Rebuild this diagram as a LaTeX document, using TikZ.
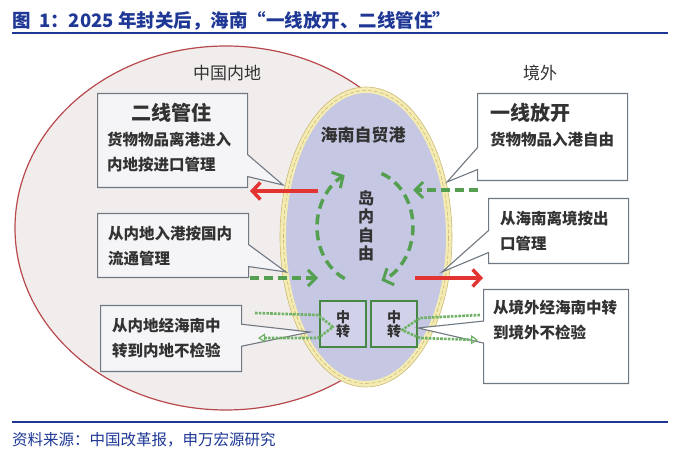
\documentclass[tikz,border=0pt]{standalone}
\usepackage{fontspec}
\setmainfont{Noto Sans CJK SC}
\usetikzlibrary{arrows.meta}
\usetikzlibrary{shapes.geometric}
\usetikzlibrary{shapes.callouts}
\definecolor{titleblue}{RGB}{31,56,150}
\definecolor{landfill}{RGB}{242,237,237}
\definecolor{landline}{RGB}{184,72,76}
\definecolor{islefill}{RGB}{197,199,227}
\definecolor{isleband}{RGB}{244,236,178}
\definecolor{isleline}{RGB}{205,185,120}
\definecolor{flowgreen}{RGB}{84,160,80}
\definecolor{transgreen}{RGB}{110,178,100}
\definecolor{flowred}{RGB}{226,52,48}
\definecolor{boxline}{RGB}{112,120,130}
\definecolor{boxfill}{RGB}{245,245,247}
\definecolor{txt}{RGB}{50,50,50}
\newcommand{\notefont}{\fontsize{15.5pt}{25pt}\selectfont\bfseries}
\newcommand{\headfont}{\fontsize{20pt}{24pt}\selectfont\bfseries}

\begin{document}
\begin{tikzpicture}[x=1pt, y=-1pt,
    notebox/.style={rectangle callout, draw=boxline, line width=1.1pt, fill=white,
      anchor=north west, inner sep=0pt, callout pointer width=22pt},
    notetext/.style={anchor=base west, align=left, inner sep=0pt, text=txt, font=\notefont},
    headtext/.style={inner sep=0pt, text=txt, font=\headfont},
    redflow/.style={flowred, line width=4pt, -{Straight Barb[length=8pt,width=17pt,line width=3.5pt]}},
    greenflow/.style={flowgreen, line width=3.5pt, dash pattern=on 9pt off 5pt,
      -{Straight Barb[length=8pt,width=16pt,line width=3pt]}},
    cycleflow/.style={flowgreen, line width=3.5pt, dash pattern=on 10pt off 6pt,
      -{Straight Barb[length=8pt,width=18pt,line width=3pt]}},
    transitflow/.style={transgreen, line width=2.6pt, dash pattern=on 2.6pt off 1.2pt,
      line join=round, -{Triangle[open,length=7pt,width=9pt,line width=1.2pt]}},
    transitbox/.style={draw=flowgreen!85!black, line width=2pt, fill=islefill!80!white,
      minimum width=46pt, minimum height=46pt, inner sep=0pt, align=center,
      text=txt, font=\fontsize{14pt}{14.5pt}\selectfont\bfseries}]
  \useasboundingbox[fill=white] (0,0) rectangle (678,454);

  \node[anchor=west, inner sep=0pt, text=titleblue, font=\fontsize{18.5pt}{20pt}\selectfont\bfseries]
    (title) at (12,21) {图\ \ 1：2025 年封关后，海南“一线放开、二线管住”};
  \draw[titleblue, line width=1.5pt] (12,33) -- (668,33);

  \node[ellipse, draw=landline, line width=1.2pt, fill=landfill,
    minimum width=422pt, minimum height=364pt] (land) at (226,228) {};
  \node[ellipse, draw=isleband, line width=6pt, fill=islefill,
    minimum width=166pt, minimum height=294pt] (isle) at (366,237) {};
  \draw[isleline, line width=0.6pt, dash pattern=on 4pt off 2pt] (isle.center) ellipse[x radius=82.5, y radius=146.5];
  \draw[isleline, line width=0.6pt] (isle.center) ellipse[x radius=86, y radius=150];

  \node[text=txt, font=\fontsize{17pt}{20pt}\selectfont] (mainland) at (227,73) {中国内地};
  \node[text=txt, font=\fontsize{17pt}{20pt}\selectfont] (abroad) at (540,73) {境外};
  \node[text=txt, font=\fontsize{17pt}{20pt}\selectfont\bfseries] (ftp) at (363,135) {海南自贸港};
  \node[align=center, text=txt, font=\fontsize{16pt}{18.5pt}\selectfont\bfseries] (free) at (366,226) {岛\\内\\自\\由};

  \coordinate (loopc) at (365,227);
  \draw[cycleflow] (loopc) ++(115:48 and 57) arc[start angle=115, end angle=245, x radius=48, y radius=57];
  \draw[cycleflow] (loopc) ++(-70:48 and 57) arc[start angle=-70, end angle=70, x radius=48, y radius=57];

  \node[transitbox] (zhongL) at (343,324) {中\\转};
  \node[transitbox] (zhongR) at (394,324) {中\\转};

  \node[notebox, fill=boxfill, minimum width=150pt, minimum height=94pt,
    callout absolute pointer={(283,185)}] (boxErxian) at (97,93) {};
  \node[headtext] (headErxian) at (171,113) {二线管住};
  \node[notetext] (txtErxian) at (107,171) {货物物品离港进入\\内地按进口管理};

  \node[notebox, fill=boxfill, minimum width=151pt, minimum height=64pt,
    callout absolute pointer={(286,272)}] (boxNeidiRu) at (97,213) {};
  \node[notetext] (txtNeidiRu) at (108,265) {从内地入港按国内\\流通管理};

  \node[notebox, fill=boxfill, minimum width=141pt, minimum height=66pt,
    callout absolute pointer={(310,332)}] (boxNeidiZhong) at (100,305) {};
  \node[notetext] (txtNeidiZhong) at (112,357) {从内地经海南中\\转到内地不检验};

  \node[notebox, minimum width=150pt, minimum height=87pt,
    callout absolute pointer={(447,182)}] (boxYixian) at (477,93) {};
  \node[headtext, anchor=west] (headYixian) at (490,113) {一线放开};
  \node[notetext] (txtYixian) at (490,146) {货物物品入港自由};

  \node[notebox, minimum width=140pt, minimum height=65pt,
    callout absolute pointer={(442,272)}] (boxLijing) at (488,198) {};
  \node[notetext] (txtLijing) at (500,250) {从海南离境按出\\口管理};

  \node[notebox, minimum width=145pt, minimum height=94pt,
    callout absolute pointer={(418,328)}] (boxJingwai) at (483,289) {};
  \node[notetext] (txtJingwai) at (493,339) {从境外经海南中转\\到境外不检验};

  \coordinate (redLs) at (318,191);
  \coordinate (redLe) at (250,191);
  \coordinate (grnRs) at (478,190);
  \coordinate (grnRe) at (413,190);
  \coordinate (grnLs) at (250,278);
  \coordinate (grnLe) at (318,278);
  \coordinate (redRs) at (415,278);
  \coordinate (redRe) at (483,278);
  \draw[redflow] (redLs) -- (redLe);
  \draw[greenflow] (grnRs) -- (grnRe);
  \draw[greenflow] (grnLs) -- (grnLe);
  \draw[redflow] (redRs) -- (redRe);

  \coordinate (inL) at (255,313);
  \coordinate (outL) at (258,338);
  \coordinate (inR) at (480,315);
  \coordinate (outR) at (478,340);
  \draw[transitflow] (inL) -- (318,315) -- (333,327) -- (318,338) -- (outL);
  \draw[transitflow] (inR) -- (420,318) -- (402,330) -- (420,338) -- (outR);

  \draw[titleblue, line width=1.5pt] (12,422) -- (668,422);
  \node[anchor=west, inner sep=0pt, text=titleblue, font=\fontsize{15.5pt}{18pt}\selectfont]
    (source) at (12,440) {资料来源：中国改革报，申万宏源研究};
\end{tikzpicture}
\end{document}
